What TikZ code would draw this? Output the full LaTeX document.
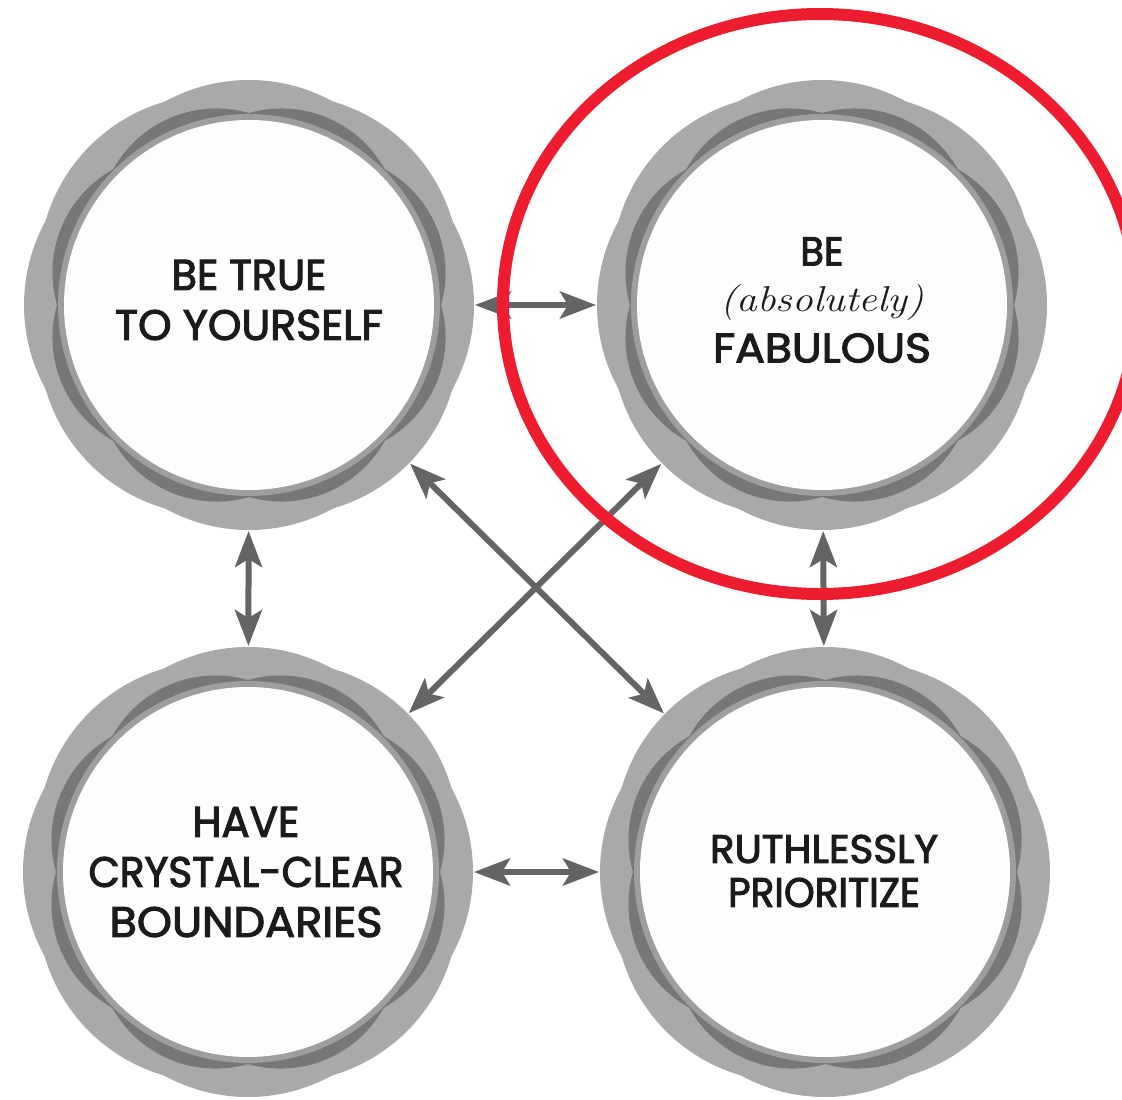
\documentclass[tikz,border=0pt]{standalone}
\usepackage{fontspec}
\usepackage{graphicx}
\newfontfamily\capsfont{Poppins}[FakeBold=2.6]
\usetikzlibrary{arrows.meta,calc,shapes.geometric}
\definecolor{ringlight}{HTML}{A9A9A9}
\definecolor{ringdark}{HTML}{777777}
\definecolor{ringmid}{HTML}{9E9E9E}
\definecolor{ringin}{HTML}{FDFDFB}
\definecolor{arrowgray}{HTML}{636464}
\definecolor{hired}{HTML}{ED1C2E}
\definecolor{txt}{HTML}{1B1B1B}
\tikzset{
  hub/.style={circle, minimum size=452pt, inner sep=0pt, outer sep=0pt},
  lbl/.style={font=\capsfont\fontsize{40}{50}\selectfont, align=center, text=txt, inner sep=0pt, outer sep=0pt},
  conn/.style={draw=arrowgray, line width=6pt,
    {Stealth[length=36pt,width=27pt,inset=8pt]}-{Stealth[length=36pt,width=27pt,inset=8pt]}},
  focus/.style={draw=hired, line width=12pt, ellipse, minimum width=634pt, minimum height=580pt, inner sep=0pt}
}
\begin{document}
\begin{tikzpicture}[x=1pt,y=-1pt]
\useasboundingbox (0,0) rectangle (1122,1100);
\fill[white] (0,0) rectangle (1122,1100);
% hubs
\node[hub] (tl) at (249,305) {};
\node[hub] (tr) at (822,305) {};
\node[hub] (bl) at (248,872) {};
\node[hub] (br) at (825,872) {};
% decorative rings
\foreach \c in {tl,tr,bl,br}{
  \fill[ringlight] (\c) circle[radius=220pt];
  \foreach \a in {0,45,...,315} \fill[ringlight] ($(\c)+(\a:51)$) circle[radius=174pt];
  \foreach \a in {22.5,67.5,...,337.5} \fill[ringdark] ($(\c)+(\a:85)$) circle[radius=118pt];
  \fill[ringmid] (\c) circle[radius=191pt];
  \fill[ringin] (\c) circle[radius=185pt];
}
% labels
\node[lbl] (tltext) at (249,300) {\resizebox{155pt}{30pt}{BE TRUE}\\\resizebox{268pt}{30pt}{TO YOURSELF}};
\node[lbl] (trtext) at (822,300) {\resizebox{43pt}{28pt}{BE}\\[-4pt]\resizebox*{204pt}{36pt}{\normalfont\itshape(absolutely)}\\[1pt]\resizebox{218pt}{29pt}{FABULOUS}};
\node[lbl] (bltext) at (246,872) {\resizebox{107pt}{30pt}{HAVE}\\\resizebox{315pt}{30pt}{CRYSTAL-CLEAR}\\\resizebox{273pt}{30pt}{BOUNDARIES}};
\node[lbl] (brtext) at (824,871) {\resizebox{228pt}{28pt}{RUTHLESSLY}\\[-6pt]\resizebox{192pt}{29pt}{PRIORITIZE}};
% connectors
\draw[conn] (tl) -- (tr);
\draw[conn] (bl) -- (br);
\draw[conn] (tl) -- (bl);
\draw[conn] (tr) -- (br);
\draw[conn] (tl) -- (br);
\draw[conn] (tr) -- (bl);
% highlight
\node[focus] (hl) at (820,304) {};
\end{tikzpicture}
\end{document}
